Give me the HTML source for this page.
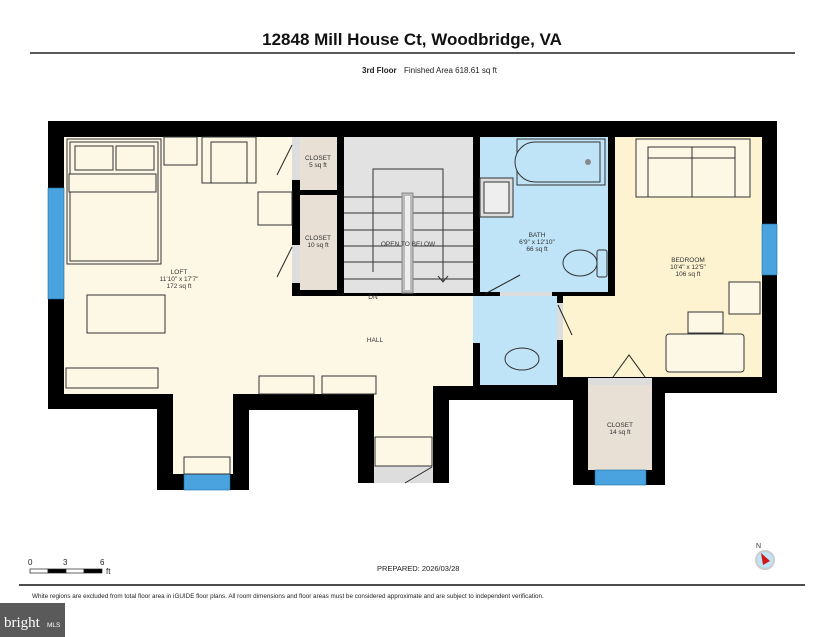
<!DOCTYPE html>
<html><head><meta charset="utf-8"><style>
html,body{margin:0;padding:0;background:#fff;}
svg{display:block;font-family:"Liberation Sans",sans-serif;}
</style></head><body>
<svg width="825" height="637" viewBox="0 0 825 637" xmlns="http://www.w3.org/2000/svg">
<text x="412" y="45" text-anchor="middle" font-size="17" font-weight="bold" fill="#111">12848 Mill House Ct, Woodbridge, VA</text>
<line x1="30" y1="53" x2="795" y2="53" stroke="#222" stroke-width="1.5"/>
<text x="362" y="73" font-size="8" font-weight="bold" fill="#222">3rd Floor</text>
<text x="404" y="73" font-size="8" fill="#222">Finished Area 618.61 sq ft</text>

<polygon fill="#000" points="48,121 777,121 777,393 665,393 665,485 573,485 573,400 449,400 449,483 358,483 358,410 249,410 249,490 157,490 157,409 48,409"/>
<g fill="#fdf8e6">
<rect x="64" y="137" width="228" height="257"/>
<rect x="64" y="296" width="369" height="98"/>
<rect x="433" y="296" width="40" height="90"/>
<rect x="173" y="394" width="60" height="80"/>
<rect x="374" y="394" width="59" height="73"/>
</g>
<rect x="374" y="466" width="59" height="17" fill="#ddd"/>
<rect x="292" y="137" width="8" height="43" fill="#ddd"/>
<rect x="292" y="245" width="8" height="38" fill="#ddd"/>
<g fill="#e8e0d4">
<rect x="300" y="137" width="37" height="53"/>
<rect x="300" y="195" width="37" height="95"/>
<rect x="588" y="378" width="64" height="92"/>
</g>
<rect x="588" y="378" width="64" height="7" fill="#ddd"/>
<rect x="344" y="137" width="129" height="156" fill="#e2e2e2"/>
<g fill="#bfe3f7">
<rect x="480" y="137" width="128" height="155"/>
<rect x="473" y="296" width="84" height="47"/>
<rect x="480" y="343" width="77" height="42"/>
</g>
<rect x="473" y="343" width="7" height="44" fill="#000"/>
<g fill="#fdf3d0">
<rect x="615" y="137" width="147" height="240"/>
<rect x="563" y="296" width="52" height="81"/>
</g>
<rect x="557" y="303" width="6" height="37" fill="#ddd"/>
<rect x="500" y="292" width="52" height="4" fill="#ddd"/>
<g fill="#4aa3df" stroke="#1a6fa8" stroke-width="0.6">
<rect x="48" y="188" width="16" height="111"/>
<rect x="184" y="474" width="46" height="16"/>
<rect x="762" y="224" width="15" height="51"/>
<rect x="595" y="470" width="51" height="15"/>
</g>
<g stroke="#333" stroke-width="1" fill="none">
<line x1="344" y1="197" x2="473" y2="197"/><line x1="344" y1="213" x2="473" y2="213"/>
<line x1="344" y1="230" x2="473" y2="230"/><line x1="344" y1="246" x2="473" y2="246"/>
<line x1="344" y1="262" x2="473" y2="262"/><line x1="344" y1="279" x2="473" y2="279"/>
<polyline points="373,272 373,169 443,169 443,282"/>
<polyline points="438,276 443,282 448,276"/>
</g>
<rect x="402" y="193" width="11" height="100" fill="#bbb" stroke="#888"/>
<rect x="405" y="196" width="5" height="94" fill="#eee"/>
<g fill="#fdf8e6" stroke="#333" stroke-width="1">
<rect x="67" y="139" width="94" height="125"/>
<rect x="70" y="142" width="88" height="119"/>
<rect x="75" y="146" width="38" height="24"/><rect x="116" y="146" width="38" height="24"/>
<rect x="69" y="174" width="87" height="18"/>
<rect x="164" y="137" width="33" height="28"/>
<rect x="202" y="137" width="54" height="46"/><rect x="211" y="142" width="36" height="41"/>
<rect x="258" y="192" width="34" height="33"/>
<rect x="87" y="295" width="78" height="38"/>
<rect x="66" y="368" width="92" height="20"/>
<rect x="259" y="376" width="55" height="18"/><rect x="322" y="376" width="54" height="18"/>
<rect x="184" y="457" width="46" height="17"/>
<rect x="375" y="437" width="57" height="29"/>
<rect x="636" y="139" width="114" height="58"/>
<polyline points="648,197 648,147 735,147 735,197" fill="none"/>
<line x1="648" y1="158" x2="735" y2="158"/><line x1="692" y1="147" x2="692" y2="197"/>
<rect x="666" y="334" width="78" height="38" rx="3"/>
<rect x="688" y="312" width="35" height="21"/>
<rect x="729" y="282" width="31" height="32"/>
</g>
<g fill="#bfe3f7" stroke="#333" stroke-width="1">
<rect x="517" y="139" width="88" height="46"/>
<path d="M600,142 L535,142 A20,20 0 0 0 535,182 L600,182 Z"/>
<rect x="480" y="178" width="33" height="39" fill="#ddd"/>
<rect x="484" y="182" width="25" height="31" fill="#eee"/>
<ellipse cx="580" cy="263" rx="17" ry="13"/>
<rect x="597" y="250" width="10" height="27" rx="2"/>
<ellipse cx="522" cy="359" rx="17" ry="11"/>
</g>
<circle cx="588" cy="162" r="3" fill="#888"/>
<g stroke="#222" stroke-width="1" fill="none">
<path d="M292,145 L277,175"/><path d="M292,247 L277,277"/>
<path d="M613,377 L629,355 L645,377"/><path d="M485,294 L520,275"/>
<path d="M558,305 L572,335"/><path d="M405,483 L432,467"/>
</g>
<g font-size="6.5" fill="#333" text-anchor="middle">
<text x="179" y="274">LOFT</text><text x="179" y="281">11'10" x 17'7"</text><text x="179" y="288">172 sq ft</text>
<text x="318" y="160">CLOSET</text><text x="318" y="167">5 sq ft</text>
<text x="318" y="240">CLOSET</text><text x="318" y="247">10 sq ft</text>
<text x="408" y="246">OPEN TO BELOW</text>
<text x="373" y="299">DN</text><text x="375" y="342">HALL</text>
<text x="537" y="237">BATH</text><text x="537" y="244">6'9" x 12'10"</text><text x="537" y="251">66 sq ft</text>
<text x="688" y="262">BEDROOM</text><text x="688" y="269">10'4" x 12'5"</text><text x="688" y="276">106 sq ft</text>
<text x="620" y="427">CLOSET</text><text x="620" y="434">14 sq ft</text>
</g>
<g font-size="8" fill="#222">
<text x="28" y="565">0</text><text x="63" y="565">3</text><text x="100" y="565">6</text><text x="106" y="574">ft</text>
<text x="377" y="571" font-size="7.5">PREPARED: 2026/03/28</text>
</g>
<g stroke="#222" stroke-width="0.7">
<rect x="30" y="569" width="18" height="4" fill="#fff"/><rect x="48" y="569" width="18" height="4" fill="#000"/>
<rect x="66" y="569" width="18" height="4" fill="#fff"/><rect x="84" y="569" width="18" height="4" fill="#000"/>
</g>
<circle cx="765" cy="560" r="9" fill="#bfe3f7" stroke="#ccc" stroke-width="2"/>
<polygon points="761,553 770,561 763,565" fill="#d01818"/>
<text x="756" y="548" font-size="7" fill="#333">N</text>
<line x1="19" y1="585" x2="805" y2="585" stroke="#111" stroke-width="1.5"/>
<text x="32" y="598" font-size="6.3" fill="#222">White regions are excluded from total floor area in iGUIDE floor plans. All room dimensions and floor areas must be considered approximate and are subject to independent verification.</text>
<rect x="0" y="603" width="65" height="34" fill="#5a5a5a"/>
<text x="4" y="627" font-size="15" fill="#fff" font-family="Liberation Serif,serif">bright</text>
<text x="47" y="627" font-size="6.5" fill="#fff">MLS</text>
</svg>
</body></html>
